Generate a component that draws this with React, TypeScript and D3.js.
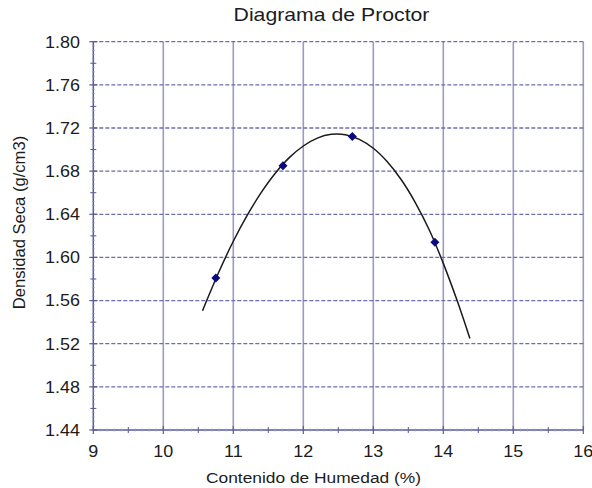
import React from "react";
import * as d3 from "d3";

const title = "Diagrama de Proctor";
const xTitle = "Contenido de Humedad (%)";
const yTitle = "Densidad Seca (g/cm3)";

const xTicks = [9, 10, 11, 12, 13, 14, 15, 16];
const yTicks = [1.44, 1.48, 1.52, 1.56, 1.6, 1.64, 1.68, 1.72, 1.76, 1.8];

// measured points
const humedad = [10.75, 11.71, 12.7, 13.88];
const densidad = [1.581, 1.685, 1.712, 1.614];

// fitted trend curve
const curveX = [10.56, 10.8, 11.0, 11.2, 11.4, 11.6, 11.8, 12.0, 12.2, 12.4, 12.6, 12.8, 13.0, 13.2, 13.4, 13.6, 13.8, 14.0, 14.2, 14.38];
const curveY = [1.5506, 1.5874, 1.615, 1.6392, 1.6603, 1.6781, 1.6925, 1.7033, 1.7106, 1.7141, 1.7138, 1.7095, 1.7012, 1.6887, 1.672, 1.6509, 1.6254, 1.5945, 1.5595, 1.5248];

const W = 592;
const H = 488;
const M = { left: 93.3, right: 583.3, top: 41.7, bottom: 430 };

const FONT = "'Liberation Sans', Arial, sans-serif";
const TEXT = "#1c1c1c";

function T(props: {
  x: number;
  y: number;
  size: number;
  anchor: "start" | "middle" | "end";
  sx?: number;
  rotate?: number;
  dy?: string;
  children: React.ReactNode;
}) {
  const { x, y, size, anchor, sx = 1, rotate = 0, dy, children } = props;
  return (
    <g transform={`translate(${x},${y}) rotate(${rotate}) scale(${sx},1)`}>
      <text textAnchor={anchor} fontSize={size} fill={TEXT} dy={dy} fontFamily={FONT}>
        {children}
      </text>
    </g>
  );
}

export default function App() {
  const x = d3.scaleLinear().domain([9, 16]).range([M.left, M.right]);
  const y = d3.scaleLinear().domain([1.44, 1.8]).range([M.bottom, M.top]);

  const line = d3
    .line<number>()
    .x((_, i) => x(curveX[i]))
    .y((d) => y(d))
    .curve(d3.curveCatmullRom.alpha(0.5));

  const yMinor = d3.range(1.44, 1.8 + 1e-9, 0.004);
  const yMid = d3.range(1.46, 1.8, 0.04);
  const xMinor = d3.range(9, 16 + 1e-9, 0.1);
  const xMid = d3.range(9.5, 16, 1);

  const axisColor = "#5a5a9a";

  return (
    <svg
      width={W}
      height={H}
      style={{ position: "absolute", left: 0, top: 0, background: "#fff" }}
      fontFamily={FONT}
    >
      {/* vertical grid */}
      {xTicks.slice(1).map((t) => (
        <line
          key={"vx" + t}
          x1={x(t)}
          x2={x(t)}
          y1={M.top}
          y2={M.bottom}
          stroke="#9a9ac6"
          strokeWidth={1.6}
        />
      ))}
      {/* horizontal grid */}
      {yTicks.slice(1).map((t) => (
        <line
          key={"hy" + t}
          x1={M.left}
          x2={M.right}
          y1={y(t)}
          y2={y(t)}
          stroke="#6e6eaa"
          strokeWidth={1.3}
          strokeDasharray="4,2"
        />
      ))}
      {/* left axis */}
      <line x1={M.left} x2={M.left} y1={M.top} y2={M.bottom} stroke={axisColor} strokeWidth={1.5} />
      {yMinor.map((t, i) => (
        <line key={"ym" + i} x1={M.left - 1.5} x2={M.left + 1.5} y1={y(t)} y2={y(t)} stroke="#9a9ac6" strokeWidth={0.8} />
      ))}
      {yMid.map((t, i) => (
        <line key={"yd" + i} x1={M.left - 3} x2={M.left + 3} y1={y(t)} y2={y(t)} stroke={axisColor} strokeWidth={1} />
      ))}
      {yTicks.map((t) => (
        <line key={"yt" + t} x1={M.left - 4} x2={M.left + 4} y1={y(t)} y2={y(t)} stroke={axisColor} strokeWidth={1.2} />
      ))}
      {/* bottom axis */}
      <line x1={M.left} x2={M.right} y1={M.bottom} y2={M.bottom} stroke={axisColor} strokeWidth={1.5} />
      {xMinor.map((t, i) => (
        <line key={"xm" + i} x1={x(t)} x2={x(t)} y1={M.bottom - 1.5} y2={M.bottom + 1.5} stroke="#9a9ac6" strokeWidth={0.8} />
      ))}
      {xMid.map((t, i) => (
        <line key={"xd" + i} x1={x(t)} x2={x(t)} y1={M.bottom - 3} y2={M.bottom + 3} stroke={axisColor} strokeWidth={1} />
      ))}
      {xTicks.map((t) => (
        <line key={"xt" + t} x1={x(t)} x2={x(t)} y1={M.bottom - 4} y2={M.bottom + 4} stroke={axisColor} strokeWidth={1.2} />
      ))}

      {/* curve */}
      <path d={line(curveY) || ""} fill="none" stroke="#1a1a1a" strokeWidth={1.5} />

      {/* points */}
      {humedad.map((h, i) => {
        const cx = x(h);
        const cy = y(densidad[i]);
        const r = 4.5;
        return (
          <path
            key={"p" + i}
            d={`M${cx},${cy - r}L${cx + r},${cy}L${cx},${cy + r}L${cx - r},${cy}Z`}
            fill="#0a0a80"
          />
        );
      })}

      {/* tick labels */}
      {yTicks.map((t) => (
        <T key={"yl" + t} x={80} y={y(t)} dy="0.36em" anchor="end" size={16.3} sx={1.1}>
          {t.toFixed(2)}
        </T>
      ))}
      {xTicks.map((t) => (
        <T key={"xl" + t} x={x(t)} y={456.7} anchor="middle" size={16.3} sx={1.1}>
          {t}
        </T>
      ))}

      {/* titles */}
      <T x={331.5} y={20.8} anchor="middle" size={18.8} sx={1.13}>
        {title}
      </T>
      <T x={313.5} y={483.4} anchor="middle" size={15.5} sx={1.12}>
        {xTitle}
      </T>
      <T x={24.5} y={222.5} anchor="middle" size={16.6} rotate={-90}>
        {yTitle}
      </T>
    </svg>
  );
}
